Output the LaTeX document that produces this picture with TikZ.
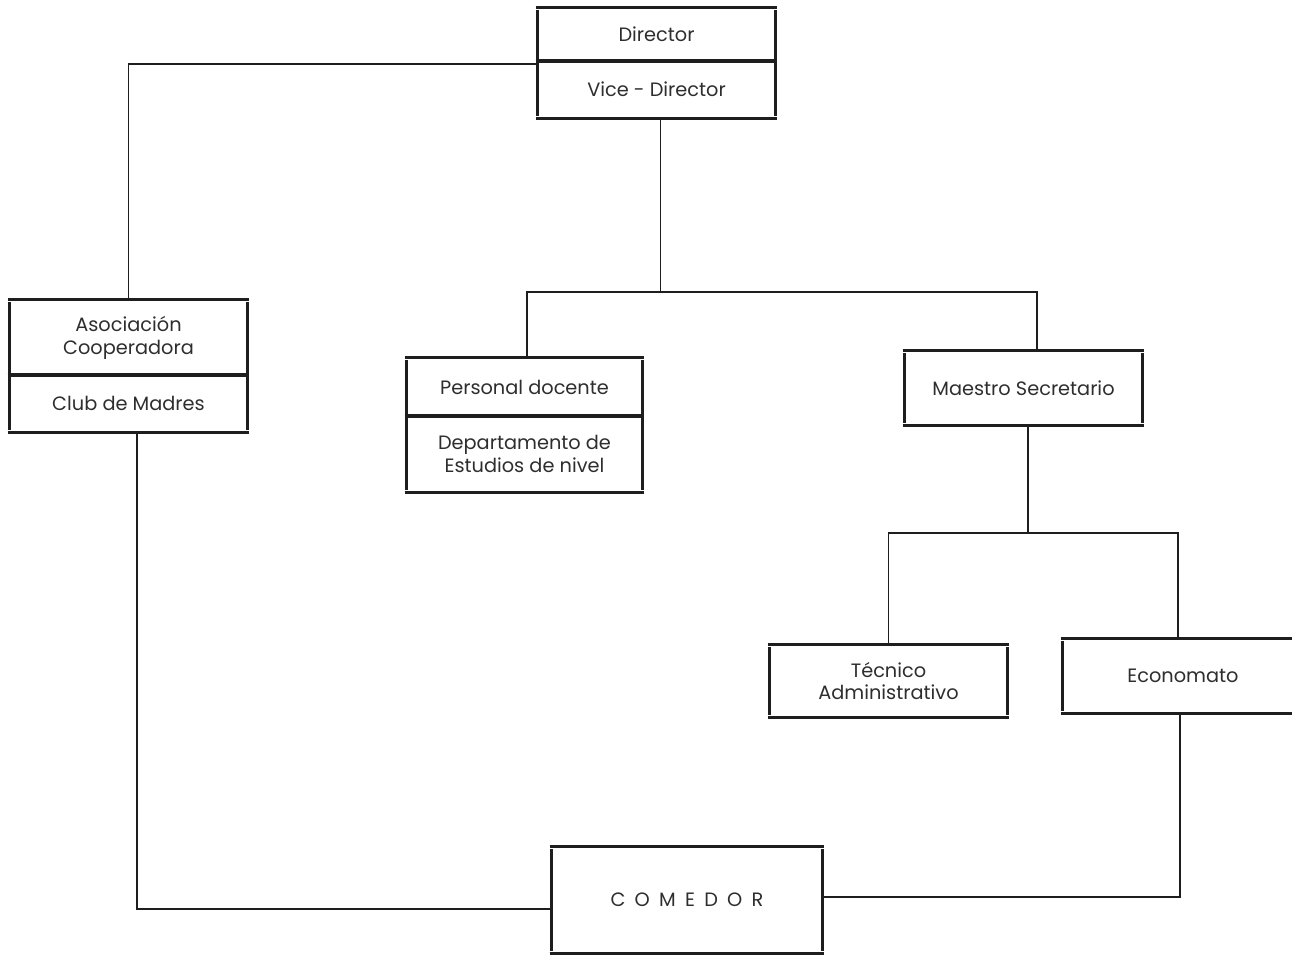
\documentclass[tikz,border=0pt]{standalone}
\usepackage{fontspec}
\setmainfont{Poppins}
\usetikzlibrary{calc}
\definecolor{ink}{HTML}{1E1E1E}
\definecolor{txt}{HTML}{2E2E2E}
\tikzset{
  boxline/.style={draw=ink, line width=1.6pt},
  conn/.style={draw=ink, line width=1.1pt},
  orgbox/.style={draw=none, inner sep=0pt, align=center, text=txt,
    font=\fontsize{11}{13}\selectfont},
}
\newcommand{\boxedges}[1]{%
  \draw[boxline] ([xshift=-1.2pt]#1.north west) -- ([xshift=1.2pt]#1.north east);
  \draw[boxline] ([xshift=-1.2pt]#1.south west) -- ([xshift=1.2pt]#1.south east);
  \draw[boxline] ([yshift=-1.6pt]#1.north west) -- ([yshift=1.6pt]#1.south west);
  \draw[boxline] ([yshift=-1.6pt]#1.north east) -- ([yshift=1.6pt]#1.south east);}
\newcommand{\spaced}{C\hspace{0.48em}O\hspace{0.48em}M\hspace{0.48em}E\hspace{0.48em}D\hspace{0.48em}O\hspace{0.48em}R}
\begin{document}
\begin{tikzpicture}[x=0.02cm, y=-0.02cm]
\useasboundingbox (0,0) rectangle (1292,955);
\clip (0,0) rectangle (1292,955);
\fill[white] (0,0) rectangle (1292,955);

% Director / Vice-Director
\node[orgbox, minimum width=4.74cm, minimum height=1.06cm] (dirA) at (656.5,34.5) {Director};
\node[orgbox, minimum width=4.74cm, minimum height=1.14cm] (dirB) at (656.5,89.5) {Vice - Director};
\boxedges{dirA}\boxedges{dirB}

% Asociacion / Club
\node[orgbox, minimum width=4.74cm, minimum height=1.5cm] (asoA) at (128.5,337.5) {Asociación\\Cooperadora};
\node[orgbox, minimum width=4.74cm, minimum height=1.14cm] (asoB) at (128.5,403.5) {Club de Madres};
\boxedges{asoA}\boxedges{asoB}

% Personal docente / Departamento
\node[orgbox, minimum width=4.7cm, minimum height=1.16cm] (perA) at (524.5,387) {Personal docente};
\node[orgbox, minimum width=4.7cm, minimum height=1.52cm] (perB) at (524.5,454) {Departamento de\\Estudios de nivel};
\boxedges{perA}\boxedges{perB}

% Maestro Secretario
\node[orgbox, minimum width=4.74cm, minimum height=1.48cm] (mae) at (1023.5,388) {Maestro Secretario};
\boxedges{mae}

% Tecnico / Economato
\node[orgbox, minimum width=4.74cm, minimum height=1.44cm] (tec) at (888.5,681) {Técnico\\Administrativo};
\node[orgbox, minimum width=4.8cm, minimum height=1.48cm] (eco) at (1183,676) {Economato};
\boxedges{tec}\boxedges{eco}

% Comedor
\node[orgbox, minimum width=5.4cm, minimum height=2.12cm] (com) at (687,900) {\spaced};
\boxedges{com}

% junction and tap coordinates
\coordinate (bus) at (660,292);
\coordinate (bus2) at (1028,533);
\coordinate (leftlow) at (137,909);
\coordinate (rightlow) at (1180,897);
\coordinate (dirtap) at ($(dirB.south)+(4,0)$);
\coordinate (pertap) at ($(perA.north)+(2.5,0)$);
\coordinate (maetopp) at ($(mae.north)+(13.5,0)$);
\coordinate (maetap) at ($(mae.south)+(4.5,0)$);
\coordinate (ecotop) at ($(eco.north)+(-5,0)$);
\coordinate (ecotap) at ($(eco.south)+(-3,0)$);
\coordinate (asotap) at ($(asoB.south)+(8.5,0)$);
\coordinate (dirleft) at ($(dirB.north west)+(0,3)$);

% connectors
\draw[conn] (dirleft) -| (asoA.north);
\draw[conn] (dirtap) -- (dirtap |- bus);
\draw[conn] (pertap) |- (bus) -| (maetopp);
\draw[conn] (maetap) -- (maetap |- bus2);
\draw[conn] (tec.north) |- (bus2) -| (ecotop);
\draw[conn] (ecotap) |- (com.east |- rightlow);
\draw[conn] (asotap) |- (com.west |- leftlow);
\end{tikzpicture}
\end{document}
